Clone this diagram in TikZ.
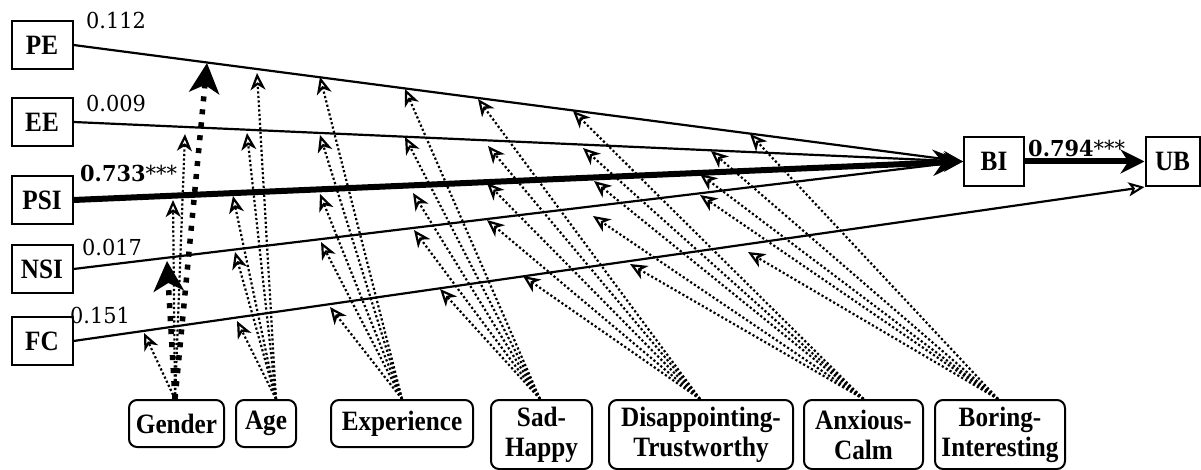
\documentclass[tikz,border=0pt]{standalone}
\usepackage{fontspec}
\setmainfont{Liberation Serif}
\newfontfamily\lblfont{Liberation Serif}[FakeStretch=0.9]
\newfontfamily\numfont{DejaVu Serif}[FakeStretch=0.95]
\usetikzlibrary{arrows.meta}
\begin{document}
\begin{tikzpicture}[x=1pt,y=-1pt,
  lbox/.style={draw, line width=2pt, minimum width=61pt, minimum height=48pt, inner sep=0pt, font=\lblfont\fontsize{28}{30}\selectfont\bfseries},
  mbox/.style={draw, line width=2pt, rounded corners=8pt, inner sep=0pt, align=center, font=\lblfont\fontsize{28}{30}\selectfont\bfseries},
  coef/.style={anchor=base west, inner sep=0pt, font=\numfont\fontsize{22}{25}\selectfont},
  mainln/.style={line width=2.2pt, -{Stealth[length=20pt,width=16pt]}},
  modarr/.style={line width=2.2pt, dash pattern=on 2.2pt off 2.3pt, -{Stealth[open,length=17pt,width=15pt,inset=5pt,line width=2.2pt]}},
  garr/.style={line width=5.5pt, dash pattern=on 5pt off 8pt, -{Stealth[length=30pt,width=30pt,inset=8pt]}},
]
\useasboundingbox (0,0) rectangle (1201,470);

% left constructs
\node[lbox] (PE)  at (42,45)  {PE};
\node[lbox] (EE)  at (42,122) {EE};
\node[lbox] (PSI) at (42,200) {PSI};
\node[lbox] (NSI) at (42,269) {NSI};
\node[lbox] (FC)  at (42,341) {FC};
% right constructs
\node[lbox, minimum width=60pt, minimum height=49pt] (BI) at (994,161.5) {BI};
\node[lbox, minimum width=54pt, minimum height=49pt] (UB) at (1172.5,161.5) {UB};

% moderators
\node[mbox, minimum width=95pt,  minimum height=47pt] (Gen) at (176.5,423.5) {Gender};
\node[mbox, minimum width=60pt,  minimum height=47pt] (Age) at (266,423.5) {Age};
\node[mbox, minimum width=142pt, minimum height=47pt] (Exp) at (402,423.5) {Experience};
\node[mbox, minimum width=101pt, minimum height=69pt] (SH)  at (541.5,434.5) {Sad-\\Happy};
\node[mbox, minimum width=184pt, minimum height=69pt] (DT)  at (701,434.5) {Disappointing-\\Trustworthy};
\node[mbox, minimum width=119pt, minimum height=69pt] (AC)  at (863.5,434.5) {Anxious-\\Calm};
\node[mbox, minimum width=130pt, minimum height=69pt] (BoI) at (1000,434.5) {Boring-\\Interesting};

% main paths
\draw[mainln] (PE.east) -- (BI.west);
\draw[mainln] (EE.east) -- (BI.west);
\draw[mainln] (NSI.east) -- (BI.west);
\draw[line width=6pt, -{Stealth[length=30pt,width=26pt]}] (PSI.east) -- (BI.west);
\draw[line width=2.2pt, -{Stealth[open,length=16pt,width=14pt,inset=4pt,line width=2pt]}] (FC.east) -- (UB.south west);
\draw[line width=6pt, -{Stealth[length=24pt,width=24pt]}] (BI.east) -- (UB.west);

% coefficients
\node[coef] (cPE)  at (86,29)  {0.112};
\node[coef] (cEE)  at (86,112) {0.009};
\node[coef] (cPSI) at (80,182) {\textbf{0.733}***};
\node[coef] (cNSI) at (82,255) {0.017};
\node[coef] (cFC)  at (70,323) {0.151};
\node[coef] (cBI)  at (1028,157) {\textbf{0.794}***};

% moderation target points
\coordinate (gPE) at (207,63);  \coordinate (gEE) at (185,134); \coordinate (gPSI) at (173,200); \coordinate (gNSI) at (167,261); \coordinate (gFC) at (144,333);
\coordinate (aPE) at (257,73);  \coordinate (aEE) at (247,133); \coordinate (aPSI) at (233,196); \coordinate (aNSI) at (235,252); \coordinate (aFC) at (237,321);
\coordinate (xPE) at (320,77);  \coordinate (xEE) at (320,135); \coordinate (xPSI) at (320,194); \coordinate (xNSI) at (321,242); \coordinate (xFC) at (330,307);
\coordinate (sPE) at (405,89);  \coordinate (sEE) at (405,137); \coordinate (sPSI) at (413,193); \coordinate (sNSI) at (414,230); \coordinate (sFC) at (440,289);
\coordinate (dPE) at (478,99);  \coordinate (dEE) at (488,146); \coordinate (dPSI) at (487,183); \coordinate (dNSI) at (487,220); \coordinate (dFC) at (523,276);
\coordinate (nPE) at (573,111); \coordinate (nEE) at (583,148); \coordinate (nPSI) at (594,181); \coordinate (nNSI) at (593,216); \coordinate (nFC) at (630,264);
\coordinate (bPE) at (750,134); \coordinate (bEE) at (711,151); \coordinate (bPSI) at (700,174); \coordinate (bNSI) at (700,195); \coordinate (bFC) at (748,252);

% Gender
\draw[modarr] ([xshift=-1.5pt]Gen.north) -- (gEE);
\draw[modarr] ([xshift=-1.5pt]Gen.north) -- (gPSI);
\draw[modarr] ([xshift=-1.5pt]Gen.north) -- (gFC);
\draw[garr] ([xshift=-1.5pt]Gen.north) -- (gPE);
\draw[garr] ([xshift=-1.5pt]Gen.north) -- (gNSI);
% Age
\foreach \t in {aPE,aEE,aPSI,aNSI,aFC} \draw[modarr] ([xshift=10pt]Age.north) -- (\t);
% Experience
\foreach \t in {xPE,xEE,xPSI,xNSI,xFC} \draw[modarr] (Exp.north) -- (\t);
% Sad-Happy
\foreach \t in {sPE,sEE,sPSI,sNSI,sFC} \draw[modarr] ([xshift=-1.5pt]SH.north) -- (\t);
% Disappointing-Trustworthy
\foreach \t in {dPE,dEE,dPSI,dNSI,dFC} \draw[modarr] ([xshift=-1pt]DT.north) -- (\t);
% Anxious-Calm
\foreach \t in {nPE,nEE,nPSI,nNSI,nFC} \draw[modarr] (AC.north) -- (\t);
% Boring-Interesting
\foreach \t in {bPE,bEE,bPSI,bNSI,bFC} \draw[modarr] ([xshift=-2pt]BoI.north) -- (\t);
\end{tikzpicture}
\end{document}
